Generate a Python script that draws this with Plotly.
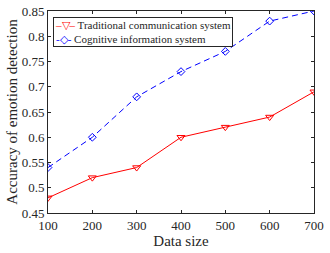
import plotly.graph_objects as go

data_size = [100, 200, 300, 400, 500, 600, 700]
traditional = [0.48, 0.52, 0.54, 0.60, 0.62, 0.64, 0.69]
cognitive = [0.54, 0.60, 0.68, 0.73, 0.77, 0.83, 0.85]
x_ticks = [100, 200, 300, 400, 500, 600, 700]
y_ticks = [0.45, 0.5, 0.55, 0.6, 0.65, 0.7, 0.75, 0.8, 0.85]
y_labels = ["0.45", "0.5", "0.55", "0.6", "0.65", "0.7", "0.75", "0.8", "0.85"]
series_names = ["Traditional communication system", "Cognitive information system"]

font = "Times New Roman"

fig = go.Figure()
fig.add_trace(go.Scatter(
    x=data_size, y=traditional, mode="lines+markers",
    name=series_names[0],
    line=dict(color="#ff0000", width=1),
    marker=dict(symbol="triangle-down-open", size=7, color="#ff0000", line=dict(width=1)),
))
fig.add_trace(go.Scatter(
    x=data_size, y=cognitive, mode="lines+markers",
    name=series_names[1],
    line=dict(color="#0000ff", width=1, dash="6px,4px"),
    marker=dict(symbol="diamond-open", size=6, color="#0000ff", line=dict(width=1)),
))

axis_common = dict(
    showline=True, linecolor="#262626", linewidth=1, mirror="ticks",
    ticks="inside", ticklen=3, tickcolor="#262626", showgrid=False, zeroline=False,
    tickfont=dict(family=font, size=13, color="#262626"), automargin=False,
)

legend_text = (
    "<span style='color:#ff0000'>–▽–</span> " + series_names[0] + "<br>"
    "<span style='color:#0000ff'>-◇-</span> " + series_names[1]
)

fig.update_layout(
    width=330, height=253,
    margin=dict(l=48, r=16, t=11, b=40),
    paper_bgcolor="white", plot_bgcolor="white",
    font=dict(family=font, size=13, color="#262626"),
    xaxis=dict(range=[100, 700], tickvals=x_ticks,
               title=dict(text="Data size", font=dict(family=font, size=15, color="#262626"), standoff=2),
               **axis_common),
    yaxis=dict(range=[0.45, 0.85], tickvals=y_ticks, ticktext=y_labels,
               title=dict(text="Accuracy of emotion detection", font=dict(family=font, size=15, color="#262626"), standoff=0),
               **axis_common),
    showlegend=False,
    annotations=[dict(
        xref="paper", yref="paper", x=0.0205, y=0.97, xanchor="left", yanchor="top",
        text=legend_text, showarrow=False, align="left",
        font=dict(family=font, size=11, color="#262626"),
        bgcolor="white", bordercolor="#262626", borderwidth=1, borderpad=1,
    )],
)

fig.write_html("out.html")
